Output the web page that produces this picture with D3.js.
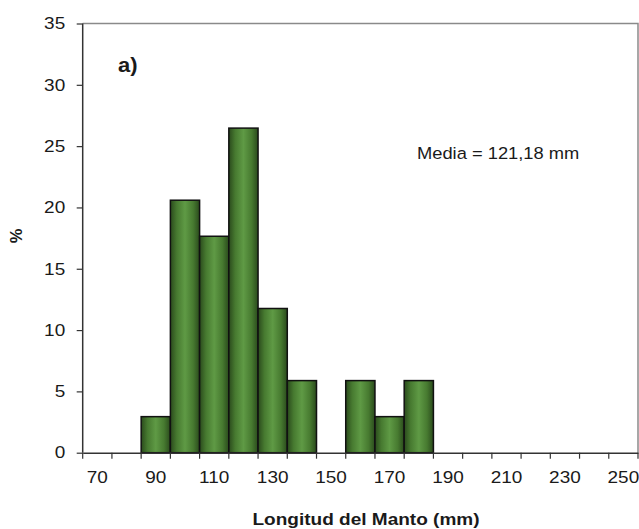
<!DOCTYPE html>
<html>
<head>
<meta charset="utf-8">
<script src="https://cdn.jsdelivr.net/npm/d3@7"></script>
<style>
  html, body { margin: 0; padding: 0; background: #fff; }
  svg { display: block; }
  text { font-family: "Liberation Sans", Arial, sans-serif; fill: #1a1a1a; }
</style>
</head>
<body>
<svg id="chart" width="639" height="529"></svg>
<script>
// ---- data ----
const categories = ["70","80","90","100","110","120","130","140","150","160","170","180","190","200","210","220","230","240","250"];
const percents   = [0, 0, 2.94, 20.59, 17.65, 26.47, 11.76, 5.88, 0, 5.88, 2.94, 5.88, 0, 0, 0, 0, 0, 0, 0];
const tickLabels = ["70","90","110","130","150","170","190","210","230","250"];
const yTicks     = [0, 5, 10, 15, 20, 25, 30, 35];
const panelLabel = "a)";
const meanLabel  = "Media =  121,18 mm";
const xTitle     = "Longitud del Manto (mm)";
const yTitle     = "%";

// ---- layout ----
const mLeft = 82.7, mRight = 638, mTop = 23.5, mBottom = 452.7;
const SX = 1.15; // horizontal text stretch seen in the reference

const svg = d3.select("#chart");

const x = d3.scaleBand().domain(categories).range([mLeft, mRight]).paddingInner(0).paddingOuter(0);
const y = d3.scaleLinear().domain([0, 35]).range([mBottom, mTop]);

// gradient for bars
const defs = svg.append("defs");
const grad = defs.append("linearGradient").attr("id", "barGrad")
  .attr("x1", "0%").attr("x2", "100%").attr("y1", "0%").attr("y2", "0%");
grad.append("stop").attr("offset", "0%").attr("stop-color", "#2a4a1c");
grad.append("stop").attr("offset", "22%").attr("stop-color", "#477a30");
grad.append("stop").attr("offset", "50%").attr("stop-color", "#5f9a45");
grad.append("stop").attr("offset", "78%").attr("stop-color", "#477a30");
grad.append("stop").attr("offset", "100%").attr("stop-color", "#2a4a1c");

// plot frame (top and right, gray)
svg.append("path")
  .attr("d", `M${mLeft},${mTop}H${mRight}V${mBottom}`)
  .attr("fill", "none").attr("stroke", "#8a8a8a").attr("stroke-width", 1.5);

// bars
const data = categories.map((c, i) => ({ c, v: percents[i] })).filter(d => d.v > 0);
svg.append("g").selectAll("rect").data(data).join("rect")
  .attr("x", d => x(d.c))
  .attr("y", d => y(d.v))
  .attr("width", x.bandwidth())
  .attr("height", d => y(0) - y(d.v))
  .attr("fill", "url(#barGrad)")
  .attr("stroke", "#111")
  .attr("stroke-width", 1.5);

// y axis
const yAxis = svg.append("g").attr("transform", `translate(${mLeft},0)`)
  .call(d3.axisLeft(y).tickValues(yTicks).tickSize(6).tickPadding(10).tickFormat(d3.format("d")));
yAxis.select(".domain").attr("stroke", "#333").attr("stroke-width", 1.5).attr("d", `M0,${mTop}V${mBottom}`);
yAxis.selectAll(".tick line").attr("stroke", "#333").attr("stroke-width", 1.2);
yAxis.selectAll(".tick text")
  .attr("x", -17.5 / SX)
  .attr("transform", `scale(${SX},1)`)
  .style("font-size", "16.5px").attr("fill", "#1a1a1a");

// x axis labels (centered in every other category)
const xAxis = svg.append("g").attr("transform", `translate(0,${mBottom})`)
  .call(d3.axisBottom(x).tickSize(0).tickPadding(18.3)
    .tickFormat(d => tickLabels.includes(d) ? d : ""));
xAxis.select(".domain").attr("stroke", "#333").attr("stroke-width", 1.5);
xAxis.selectAll(".tick text")
  .attr("transform", `scale(${SX},1)`)
  .style("font-size", "16.5px").attr("fill", "#1a1a1a");
xAxis.selectAll(".tick").each(function(d) {
  const g = d3.select(this);
  const tx = x(d) + x.bandwidth() / 2;
  g.attr("transform", "translate(0,0)");
  g.select("text").attr("x", tx / SX);
});

// x boundary tick marks
const bounds = categories.map(c => x(c)).concat([x.range()[1]]);
svg.append("g").selectAll("line").data(bounds).join("line")
  .attr("x1", d => d).attr("x2", d => d)
  .attr("y1", mBottom).attr("y2", mBottom + 6)
  .attr("stroke", "#333").attr("stroke-width", 1.2);

// panel label
svg.append("text")
  .attr("transform", `translate(118,72) scale(1.1,1)`)
  .style("font-size", "20px").style("font-weight", "bold")
  .text(panelLabel);

// mean label
svg.append("text")
  .attr("transform", `translate(417,159) scale(1.11,1)`)
  .style("font-size", "16.5px")
  .text(meanLabel);

// x title
svg.append("text")
  .attr("transform", `translate(366,525) scale(1.12,1)`)
  .attr("text-anchor", "middle")
  .style("font-size", "17px").style("font-weight", "bold")
  .text(xTitle);

// y title
svg.append("text")
  .attr("transform", `translate(22,236) rotate(-90)`)
  .attr("text-anchor", "middle")
  .style("font-size", "16.5px").style("font-weight", "bold")
  .text(yTitle);
</script>
</body>
</html>
